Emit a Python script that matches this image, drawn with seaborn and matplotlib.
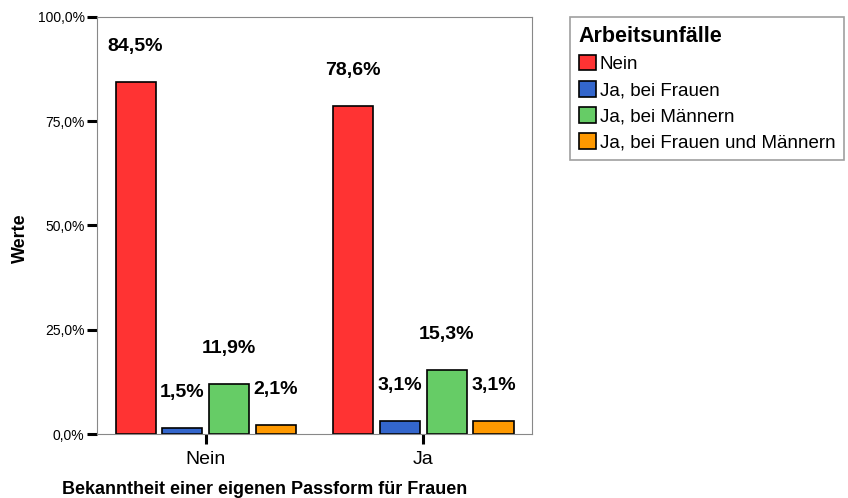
import matplotlib
matplotlib.use("Agg")
import matplotlib.pyplot as plt
import pandas as pd
import seaborn as sns

groups = ["Nein", "Ja"]
accidents = ["Nein", "Ja, bei Frauen", "Ja, bei Männern", "Ja, bei Frauen und Männern"]
share_nein = [84.5, 1.5, 11.9, 2.1]
share_ja = [78.6, 3.1, 15.3, 3.1]
colors = ["#FF3333", "#3366CC", "#66CC66", "#FF9900"]

df = pd.DataFrame({
    "Passform": [groups[0]] * 4 + [groups[1]] * 4,
    "Arbeitsunfälle": accidents * 2,
    "Werte": share_nein + share_ja,
})

sns.set_style("white")
plt.rcParams["font.family"] = ["Liberation Sans", "DejaVu Sans"]
plt.rcParams["text.color"] = "black"
plt.rcParams["axes.labelcolor"] = "black"
plt.rcParams["xtick.color"] = "black"
plt.rcParams["ytick.color"] = "black"

fig = plt.figure(figsize=(8.48, 4.98), dpi=100)
ax = fig.add_axes([0.1144, 0.1285, 0.513, 0.8374])

sns.barplot(data=df, x="Passform", y="Werte", hue="Arbeitsunfälle",
            order=groups, hue_order=accidents, palette=colors,
            width=0.86, gap=0.14, edgecolor="black", linewidth=1.2,
            saturation=1, ax=ax, legend=True)

for cont in ax.containers:
    ax.bar_label(cont, labels=[f"{v:.1f}%".replace(".", ",") for v in cont.datavalues],
                 padding=19.5, fontsize=14, fontweight="bold", color="black")

ax.set_xlim(-0.5, 1.5)
ax.set_ylim(0, 100)
ax.set_yticks([0, 25, 50, 75, 100])
ax.set_yticklabels([f"{t:.1f}%".replace(".", ",") for t in [0, 25, 50, 75, 100]], fontsize=10)
ax.tick_params(axis="y", length=7, width=2.2, color="black", pad=2, left=True)
ax.tick_params(axis="x", length=7, width=2.2, color="black", labelsize=14, pad=5, bottom=True)
for s in ax.spines.values():
    s.set_color("#888888")
    s.set_linewidth(0.8)

ax.set_ylabel("Werte", fontsize=13, fontweight="bold")
ax.set_xlabel("Bekanntheit einer eigenen Passform für Frauen", fontsize=13,
              fontweight="bold")
ax.yaxis.set_label_coords(-0.176, 0.47)
ax.xaxis.set_label_coords(0.386, -0.134)
ax.xaxis.label.set_va("center")
ax.yaxis.label.set_va("center")

leg = ax.legend(title="Arbeitsunfälle", loc="upper left", bbox_to_anchor=(1.087, 1.0),
                borderaxespad=0, fontsize=13.5,
                title_fontproperties={"weight": "bold", "size": 15.5},
                frameon=True, fancybox=False, edgecolor="#888888",
                handlelength=0.9, handleheight=0.9, handletextpad=0.2,
                labelspacing=0.42, borderpad=0.48, alignment="left")
leg.get_frame().set_linewidth(1.2)

fig.savefig("out.png", dpi=100)
